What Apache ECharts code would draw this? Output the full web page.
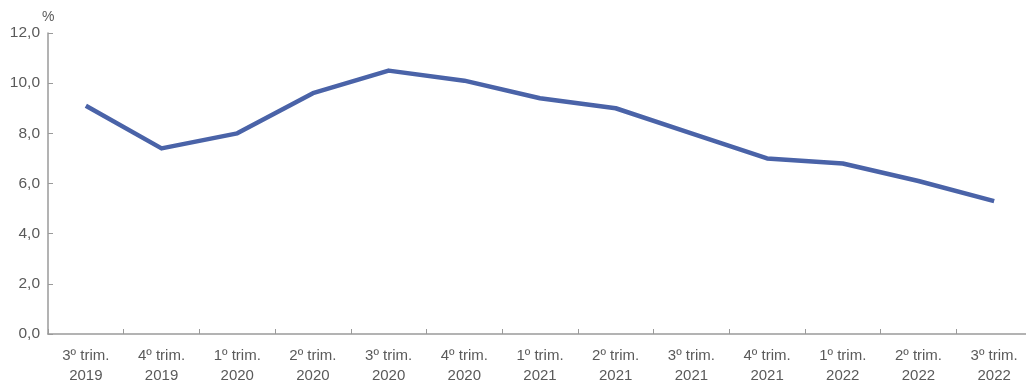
<!DOCTYPE html>
<html>
<head>
<meta charset="utf-8">
<style>
  html, body { margin: 0; padding: 0; background: #ffffff; }
  #chart { width: 1026px; height: 383px; }
</style>
<script src="https://cdn.jsdelivr.net/npm/echarts@6/dist/echarts.min.js"></script>
</head>
<body>
<div id="chart"></div>
<script>
// Quarterly rate, %
const quarters = [
  '3º trim.\n2019', '4º trim.\n2019',
  '1º trim.\n2020', '2º trim.\n2020', '3º trim.\n2020', '4º trim.\n2020',
  '1º trim.\n2021', '2º trim.\n2021', '3º trim.\n2021', '4º trim.\n2021',
  '1º trim.\n2022', '2º trim.\n2022', '3º trim.\n2022'
];
const rates = [9.1, 7.4, 8.0, 9.6, 10.5, 10.1, 9.4, 9.0, 8.0, 7.0, 6.8, 6.1, 5.3];
const yTicks = { min: 0, max: 12, interval: 2 };

const textColor = '#5a5a5a';
const axisColor = '#9a9a9a';
const font = 'Liberation Sans, Arial, sans-serif';

const chart = echarts.init(document.getElementById('chart'), null, { renderer: 'canvas' });
chart.setOption({
  backgroundColor: '#ffffff',
  animation: false,
  grid: { left: 48, top: 33, width: 984, bottom: 49, containLabel: false, outerBoundsMode: 'none' },
  xAxis: {
    type: 'category',
    data: quarters,
    boundaryGap: true,
    axisLine: { lineStyle: { color: axisColor, width: 1.5 } },
    axisTick: { show: true, inside: true, length: 5, interval: 0, lineStyle: { color: axisColor } },
    axisLabel: {
      interval: 0, color: textColor, fontFamily: font,
      fontSize: 15, lineHeight: 20, margin: 12
    },
    splitLine: { show: false }
  },
  yAxis: {
    type: 'value',
    min: yTicks.min, max: yTicks.max, interval: yTicks.interval,
    name: '%', nameLocation: 'end', nameGap: 9,
    nameTextStyle: { color: textColor, fontSize: 14, fontFamily: font, align: 'left', padding: [0, 0, 0, -6] },
    axisLine: { show: true, lineStyle: { color: axisColor, width: 1.5 } },
    axisTick: { show: true, inside: true, length: 5, lineStyle: { color: axisColor } },
    axisLabel: {
      color: textColor, fontSize: 15.5, margin: 8, fontFamily: font,
      formatter: v => v.toFixed(1).replace('.', ',')
    },
    splitLine: { show: false }
  },
  series: [{
    type: 'line',
    data: rates,
    symbol: 'none',
    lineStyle: { color: '#4a63a8', width: 4.5, join: 'round' },
    itemStyle: { color: '#4a63a8' }
  }]
});
</script>
</body>
</html>
